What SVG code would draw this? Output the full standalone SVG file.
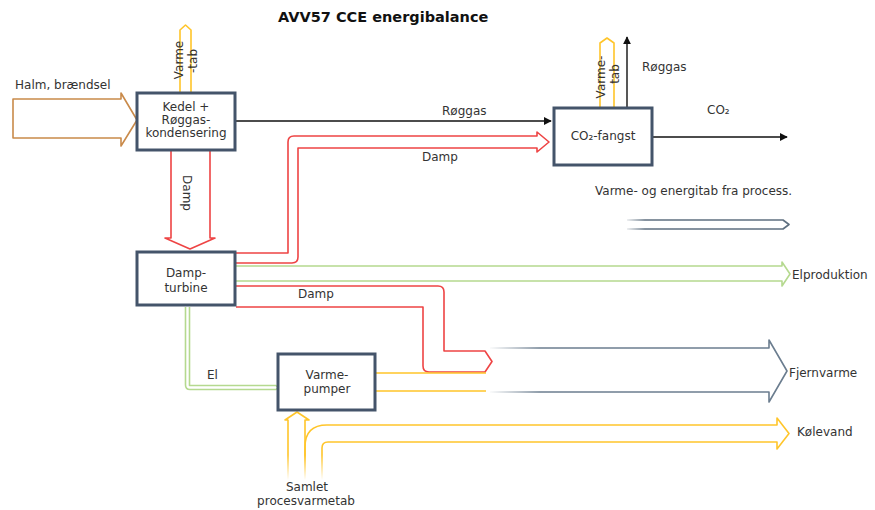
<svg xmlns="http://www.w3.org/2000/svg" width="875" height="510" viewBox="0 0 875 510">
<style>
text{font-family:"DejaVu Sans","Verdana",sans-serif;font-size:12px;fill:#333}
.title{font-size:14.5px;font-weight:bold;fill:#111}
.box{fill:#fff;stroke:#44546A;stroke-width:3}
.red{fill:none;stroke:#EE4444;stroke-width:1.6;stroke-linejoin:round}
.yel{fill:none;stroke:#FFC52A;stroke-width:1.6;stroke-linejoin:round}
.grn{fill:none;stroke:#B5D98F;stroke-width:1.6;stroke-linejoin:round}
.blk{fill:none;stroke:#111;stroke-width:1.4}
.c{text-anchor:middle}
</style>
<defs>
<marker id="ah" viewBox="0 0 10 10" refX="9" refY="5" markerWidth="8" markerHeight="8" markerUnits="userSpaceOnUse" orient="auto"><path d="M0,0 L10,5 L0,10 Z" fill="#111"/></marker>
<linearGradient id="gFj" gradientUnits="userSpaceOnUse" x1="488" y1="0" x2="540" y2="0"><stop offset="0" stop-color="#fff"/><stop offset="1" stop-color="#6B7D8F"/></linearGradient>
<linearGradient id="gLg" gradientUnits="userSpaceOnUse" x1="624" y1="0" x2="645" y2="0"><stop offset="0" stop-color="#fff"/><stop offset="1" stop-color="#5E6F80"/></linearGradient>
<linearGradient id="gY" gradientUnits="userSpaceOnUse" x1="0" y1="455" x2="0" y2="480"><stop offset="0" stop-color="#FFC52A"/><stop offset="1" stop-color="#fff"/></linearGradient>
</defs>
<text class="title" x="278" y="22">AVV57 CCE energibalance</text>
<g id="connectors">
<path d="M13,99 H121 V93 L137,120 L121,146 V138 H13 Z" fill="none" stroke="#C98A4A" stroke-width="1.6" stroke-linejoin="round"/>
<path class="yel" d="M180,93 V30 L185.5,25 L191,30 V93"/>
<path class="yel" d="M600,108 V43 L607,38 L614,43 V108"/>
<path class="red" d="M171,151 V238 H165 L190,249 L215,238 H210 V151"/>
<path class="blk" d="M236,121 H551" marker-end="url(#ah)"/>
<path class="blk" d="M627,107 V37" marker-end="url(#ah)"/>
<path class="blk" d="M653,137 H787" marker-end="url(#ah)"/>
<path class="red" d="M236,253 H288 V142 Q288,136 294,136 H537 V132 L549,142 L537,152 V148 H298 V257 Q298,263 292,263 H236"/>
<path class="grn" d="M236,266 H782 V262 L790,274 L782,286 V281 H236"/>
<path class="red" d="M236,286 H438 Q444,286 444,292 V351 H485 L492,361.5 L485,372 H429 Q423,372 423,366 V307 H236"/>
<path class="grn" d="M185.5,307 V385 Q185.5,389.5 190,389.5 H276 L278,387.5 L276,385.5 H189.5 V307"/>
<path class="yel" d="M376,373 H486 M376,391 H486"/>
<path d="M490,348 H769 V340 L787,371 L769,402 V392 H490" fill="none" stroke="url(#gFj)" stroke-width="1.6" stroke-linejoin="round"/>
<path d="M627,220 H783 L789,224.5 L783,229 H627" fill="none" stroke="url(#gLg)" stroke-width="1.6" stroke-linejoin="round"/>
<path d="M305,480 V447 Q305,425 327,425 H777 V418 L789,433.5 L777,449 V442 H328 Q322,442 322,448 V480" fill="none" stroke="url(#gY)" stroke-width="1.6" stroke-linejoin="round"/>
<path d="M288,480 V420 H285 L297,412 L309,420 H305 V480" fill="none" stroke="url(#gY)" stroke-width="1.6" stroke-linejoin="round"/>
</g>
<g id="kedel">
<rect class="box" x="137" y="93" width="98" height="57"/>
<text class="c" x="186" y="111">Kedel +</text>
<text class="c" x="186" y="124">Røggas-</text>
<text class="c" x="186" y="137">kondensering</text>
</g>
<g id="dampturbine">
<rect class="box" x="137" y="252" width="98" height="53"/>
<text class="c" x="186" y="277">Damp-</text>
<text class="c" x="186" y="292">turbine</text>
</g>
<g id="co2fangst">
<rect class="box" x="554" y="108" width="98" height="57"/>
<text class="c" x="603" y="140">CO₂-fangst</text>
</g>
<g id="varmepumper">
<rect class="box" x="278" y="354" width="97" height="56"/>
<text class="c" x="327" y="379">Varme-</text>
<text class="c" x="327" y="393">pumper</text>
</g>
<g id="labels">
<text x="15" y="89">Halm, brændsel</text>
<text class="c" transform="translate(183,60) rotate(-90)">Varme</text>
<text class="c" transform="translate(197,61) rotate(-90)">-tab</text>
<text class="c" transform="translate(605,77) rotate(-90)">Varme-</text>
<text class="c" transform="translate(619,74) rotate(-90)">tab</text>
<text class="c" transform="translate(183,193) rotate(90)">Damp</text>
<text x="442" y="115">Røggas</text>
<text x="642" y="71">Røggas</text>
<text x="707" y="114">CO₂</text>
<text x="422" y="161">Damp</text>
<text x="595" y="195">Varme- og energitab fra process.</text>
<text x="792" y="279">Elproduktion</text>
<text x="298" y="298">Damp</text>
<text x="207" y="379">El</text>
<text x="789" y="377">Fjernvarme</text>
<text x="797" y="436">Kølevand</text>
<text class="c" x="307" y="491">Samlet</text>
<text class="c" x="306" y="505">procesvarmetab</text>
</g>
</svg>
